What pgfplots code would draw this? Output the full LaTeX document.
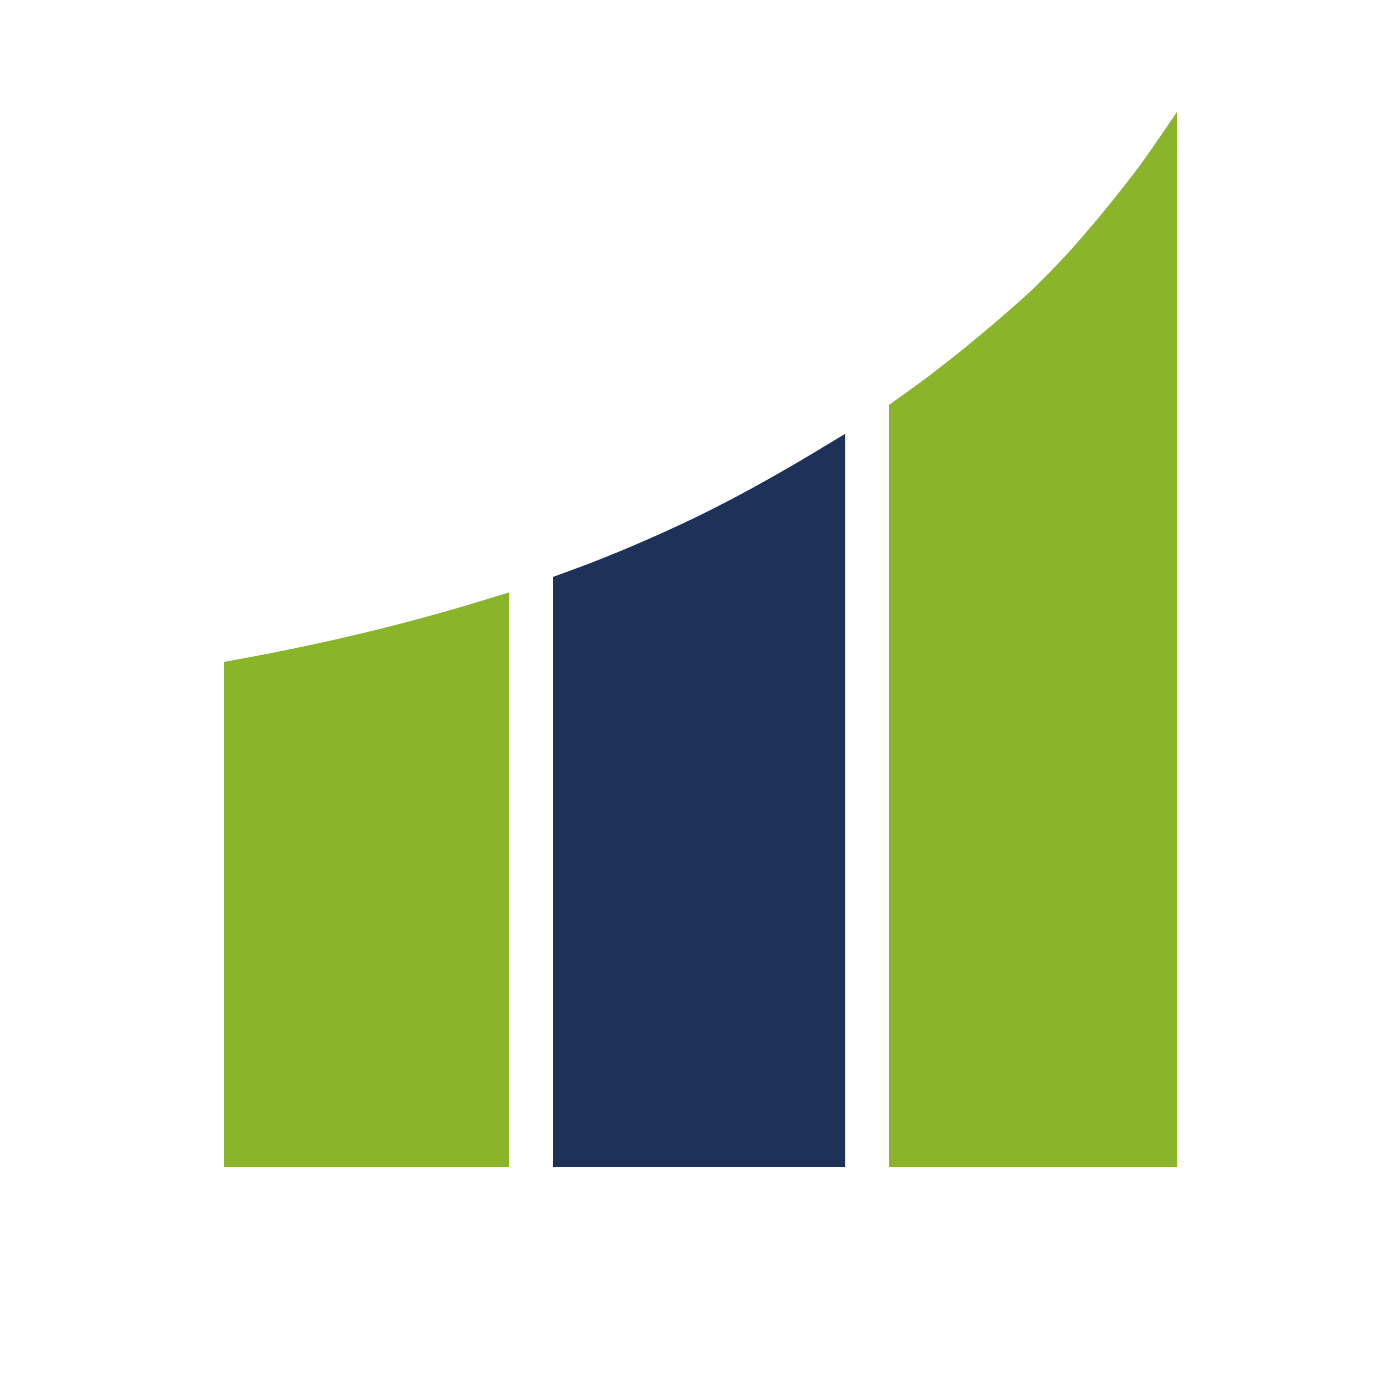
\documentclass[border=0pt]{standalone}
\usepackage{pgfplots}
\pgfplotsset{compat=1.18}
\usepgfplotslibrary{fillbetween}
\definecolor{barGreen}{RGB}{138,181,42}
\definecolor{barNavy}{RGB}{30,49,88}
\begin{document}
\begin{tikzpicture}
    \begin{axis}[
        width=10cm,
        height=10cm,
        scale only axis,
        hide axis,
        xmin=0, xmax=1400,
        ymin=0, ymax=1400,
    ]
    % frame the full canvas
    \addplot[draw=none, forget plot] coordinates {(0,0) (1400,1400)};

    % left bar
    \addplot[draw=none, smooth, name path=top1] coordinates {
        (224,738) (271.5,746.9) (319,756.8) (366.5,767.7) (414,779.8) (461.5,793.1) (509,807.5)};
    \addplot[draw=none, name path=bot1] coordinates {(224,233) (509,233)};
    \addplot[barGreen] fill between[of=top1 and bot1];

    % middle bar
    \addplot[draw=none, smooth, name path=top2] coordinates {
        (553,823) (589.5,836.5) (626,851.2) (662.5,867.1) (699,884.2) (735.5,902.8) (772,922.8) (808.5,944) (845,966)};
    \addplot[draw=none, name path=bot2] coordinates {(553,233) (845,233)};
    \addplot[barNavy] fill between[of=top2 and bot2];

    % right bar
    \addplot[draw=none, smooth, name path=top3] coordinates {
        (889,995) (925,1021) (961,1049) (997,1079) (1033,1111) (1069,1148) (1105,1190) (1141,1236) (1177,1288)};
    \addplot[draw=none, name path=bot3] coordinates {(889,233) (1177,233)};
    \addplot[barGreen] fill between[of=top3 and bot3];
    \end{axis}
\end{tikzpicture}
\end{document}
